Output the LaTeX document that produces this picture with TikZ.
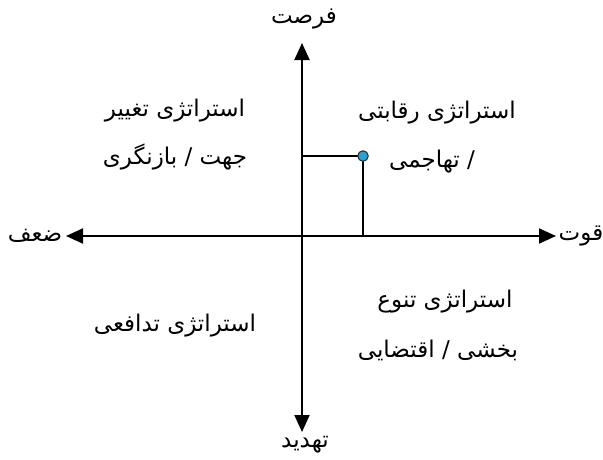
\documentclass[tikz,border=0pt]{standalone}
\usepackage{fontspec}
\usepackage{xcolor}
\usetikzlibrary{positioning,arrows.meta,calc}
\newfontfamily\farsi[Script=Arabic]{DejaVu Sans}
\TeXXeTstate=1
\newcommand{\fa}[1]{\beginR #1\endR}
\definecolor{dotblue}{HTML}{2AA3D4}

\begin{document}
\begin{tikzpicture}[x=1pt,y=-1pt,
  axis/.style={line width=2pt,{Triangle[length=17pt,width=15pt]}-{Triangle[length=17pt,width=15pt]}},
  guide/.style={line width=1.2pt},
  spot/.style={circle,draw=black!85,line width=1pt,fill=dotblue,minimum size=10.5pt,inner sep=0pt},
  every node/.style={font=\farsi\fontsize{23}{27}\selectfont,inner sep=0pt}]
  \useasboundingbox (0,0) rectangle (603,459);
  % axes
  \coordinate (O) at (302,236);
  \coordinate (N) at (302,43);
  \coordinate (S) at (302,432);
  \coordinate (W) at (66,236);
  \coordinate (E) at (556,236);
  \draw[axis] (W) -- (E);
  \draw[axis] (N) -- (S);
  \node (opp) at (304,19) {\fa{فرصت}};
  \node (threat) at (305,445) {\fa{تهدید}};
  \node (weak) at (35,236) {\fa{ضعف}};
  \node (strength) at (581,236) {\fa{قوت}};
  % point
  \coordinate (P) at (363,156);
  \draw[guide] (O |- P) -- (P) -- (P |- O);
  \node[spot] (pt) at (P) {};
  % quadrants
  \node (tl1) at (175,111) {\fa{استراتژی تغییر}};
  \node (tl2) at (175,157) {\fa{جهت / بازنگری}};
  \node (tr1) at (437,113) {\fa{استراتژی رقابتی}};
  \node (tr2) at (432,162) {\fa{/ تهاجمی}};
  \node (bl1) at (175,326) {\fa{استراتژی تدافعی}};
  \node (br1) at (445,302) {\fa{استراتژی تنوع}};
  \node (br2) at (438,350) {\fa{بخشی / اقتضایی}};
\end{tikzpicture}
\end{document}
